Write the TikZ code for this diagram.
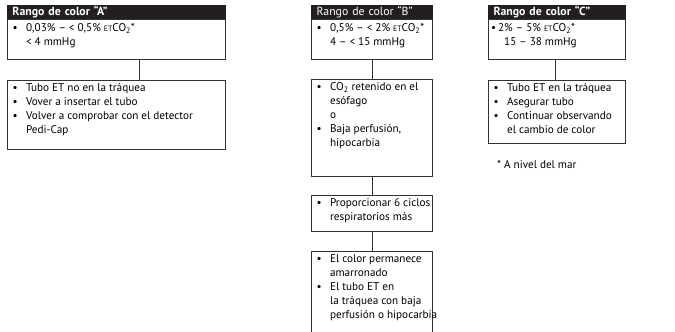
\documentclass[tikz,border=0pt]{standalone}
\usepackage{fontspec}
\setmainfont{PT Sans}
\definecolor{hdr}{HTML}{231F20}
\definecolor{ln}{HTML}{333333}
\newcommand\etco{{\fontsize{7.8}{7.8}\selectfont ET}CO\textsubscript{2}*}
\newcommand\bul{\textbullet}
\tikzset{
  box/.style={draw=ln, line width=1pt, anchor=north west, inner sep=0pt},
  hdrbox/.style={fill=hdr, draw=hdr, line width=1pt, anchor=north west, inner xsep=5pt, inner ysep=0pt, minimum height=14pt, text=white, align=left, font=\fontsize{11.8}{12}\selectfont},
  txt/.style={anchor=north west, inner sep=0pt, align=left, font=\fontsize{11.2}{14}\selectfont},
  conn/.style={draw=ln, line width=1pt}
}
\newenvironment{blist}{\begin{tabular}{@{}l@{\hspace{8.3pt}}l@{}}}{\end{tabular}}
\begin{document}
\begin{tikzpicture}[x=1pt,y=-1pt]
\useasboundingbox (0,0) rectangle (675,332);
\clip (0,0) rectangle (675,332);
\fill[white] (0,0) rectangle (675,332);
% ---------- A ----------
\node[hdrbox, text width=208pt] (aHead) at (7,5) {\bfseries Rango de color “A”};
\node[box, minimum width=218pt, minimum height=40pt] (aBody) at (7,19) {};
\node[txt] (aBodyT) at (12.5,21.2) {\begin{blist}\bul & 0,03\% – < 0,5\% \etco\\ & < 4 mmHg\end{blist}};
\node[box, minimum width=218pt, minimum height=69pt] (aList) at (7,80) {};
\node[txt] (aListT) at (12.5,81.2) {\begin{blist}\bul & Tubo ET no en la tráquea\\ \bul & Vover a insertar el tubo\\ \bul & Volver a comprobar con el detector\\ & Pedi-Cap\end{blist}};
\coordinate (cA) at (139,0);
\draw[conn] (aBody.south -| cA) -- (aList.north -| cA);
% ---------- B ----------
\node[hdrbox, text width=111pt] (bHead) at (311,5) {Rango de color “B”};
\node[box, minimum width=121pt, minimum height=40pt] (bBody) at (311,19) {};
\node[txt] (bBodyT) at (316.5,21.2) {\begin{blist}\bul & 0,5\% – < 2\% \etco\\ & 4 – < 15 mmHg\end{blist}};
\node[box, minimum width=121pt, minimum height=97pt] (bL1) at (311,79) {};
\node[txt] (bL1T) at (316.5,80.2) {\begin{blist}\bul & CO\textsubscript{2} retenido en el\\ & esófago\\ & o\\ \bul & Baja perfusión,\\ & hipocarbia\end{blist}};
\node[box, minimum width=121pt, minimum height=36pt] (bL2) at (311,195) {};
\node[txt] (bL2T) at (316.5,196.2) {\begin{blist}\bul & Proporcionar 6 ciclos\\ & respiratorios más\end{blist}};
\node[box, minimum width=121pt, minimum height=85pt] (bL3) at (311,251) {};
\node[txt] (bL3T) at (316.5,252.2) {\begin{blist}\bul & El color permanece\\ & amarronado\\ \bul & El tubo ET en\\ & la tráquea con baja\\ & perfusión o hipocarbia\end{blist}};
\coordinate (cB) at (372,0);
\draw[conn] (bBody.south -| cB) -- (bL1.north -| cB);
\draw[conn] (bL1.south -| cB) -- (bL2.north -| cB);
\draw[conn] (bL2.south -| cB) -- (bL3.north -| cB);
% ---------- C ----------
\node[hdrbox, text width=127pt] (cHead) at (488,5) {\bfseries Rango de color “C”};
\node[box, minimum width=137pt, minimum height=40pt] (cBody) at (488,19) {};
\node[txt] (cBodyT) at (491,21.2) {\begin{tabular}{@{}l@{}}\bul\,2\% – 5\% \etco\\ \hspace{13pt}15 – 38 mmHg\end{tabular}};
\node[box, minimum width=137pt, minimum height=63pt] (cList) at (488,80) {};
\node[txt] (cListT) at (493.5,81.2) {\begin{blist}\bul & Tubo ET en la tráquea\\ \bul & Asegurar tubo\\ \bul & Continuar observando\\ & el cambio de color\end{blist}};
\coordinate (cC) at (555,0);
\draw[conn] (cBody.south -| cC) -- (cList.north -| cC);
\node[txt] (note) at (497,160) {* A nivel del mar};
\end{tikzpicture}
\end{document}
